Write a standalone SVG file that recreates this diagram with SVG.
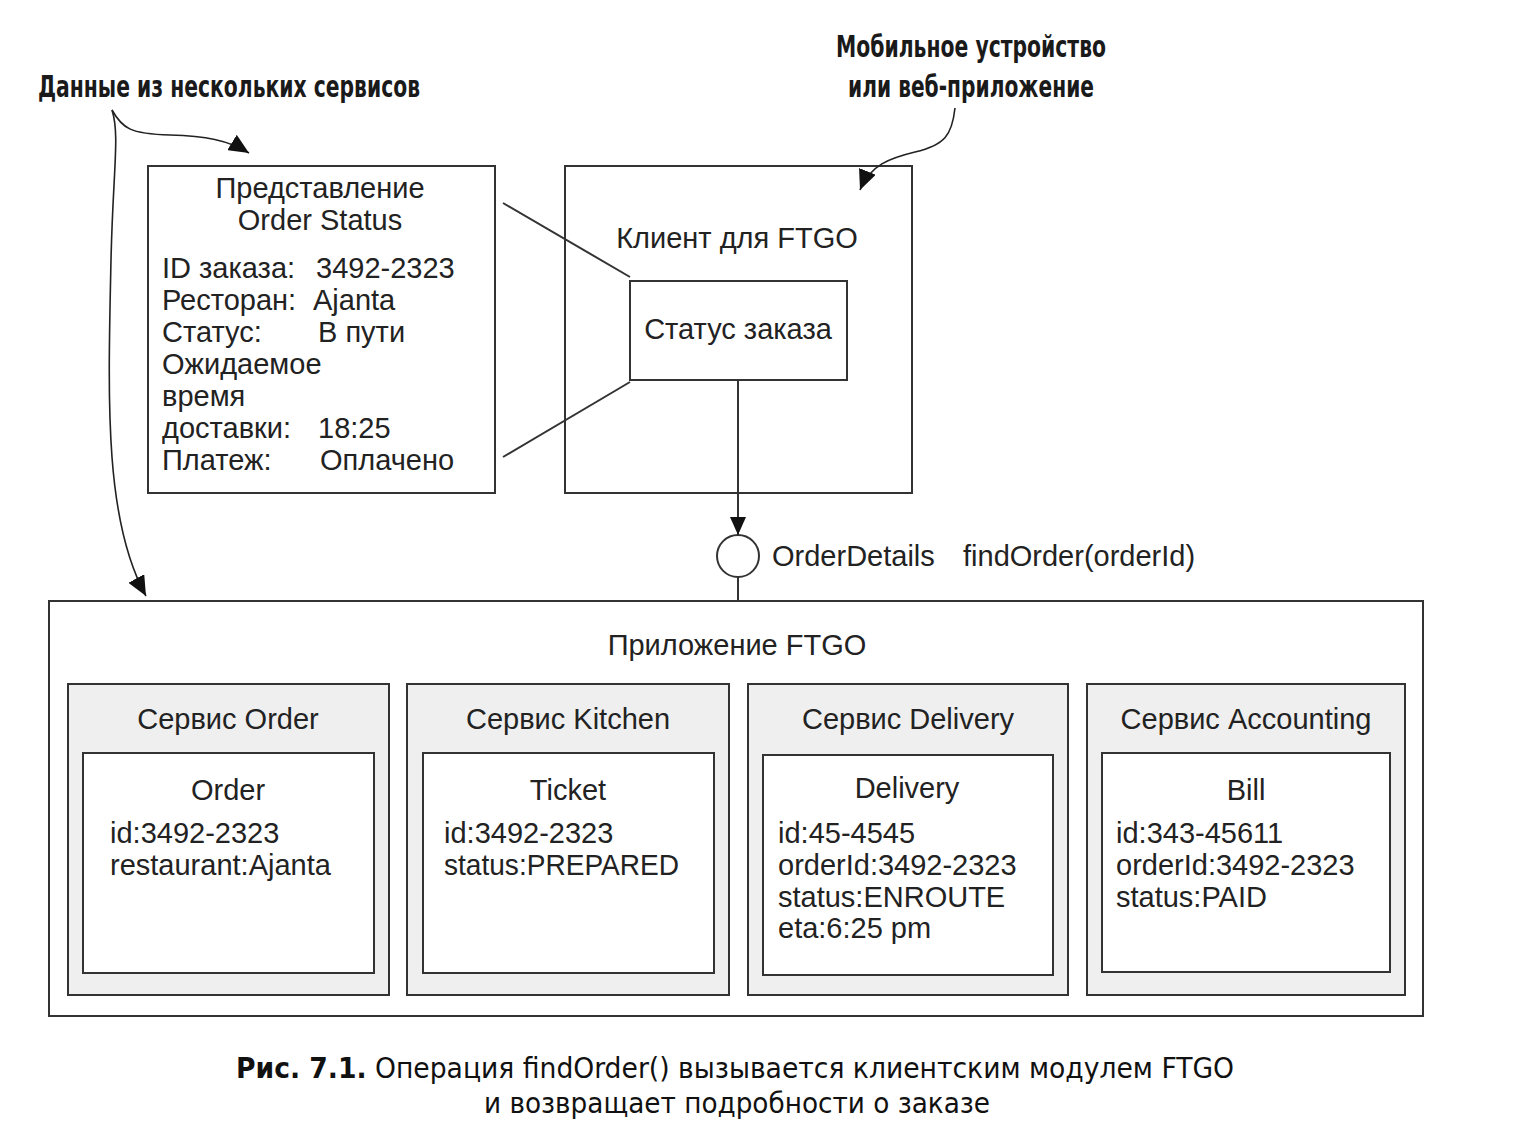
<svg xmlns="http://www.w3.org/2000/svg" width="1515" height="1130" viewBox="0 0 1515 1130">
<defs>
<style>
.box{fill:#fff;stroke:#333;stroke-width:2}
.svc{fill:#efefef;stroke:#333;stroke-width:2}
.t{font-family:"Liberation Sans",Arial,sans-serif;font-size:29px;fill:#222}
.c{text-anchor:middle}
.ann{font-family:"DejaVu Sans Condensed","DejaVu Sans",sans-serif;font-weight:bold;font-size:30px;fill:#1a1a1a}
.cap{font-family:"DejaVu Sans Condensed","DejaVu Sans",sans-serif;font-size:28px;fill:#111}
.ln{fill:none;stroke:#333;stroke-width:2}
.cv{fill:none;stroke:#222;stroke-width:1.6}
</style>
<marker id="ah" viewBox="0 0 20 18" refX="20" refY="9" markerWidth="20" markerHeight="18" markerUnits="userSpaceOnUse" orient="auto">
<path d="M0,0 L20,9 L0,18 z" fill="#111"/>
</marker>
<marker id="ah2" viewBox="0 0 18 16" refX="18" refY="8" markerWidth="18" markerHeight="16" markerUnits="userSpaceOnUse" orient="auto">
<path d="M0,0 L18,8 L0,16 z" fill="#111"/>
</marker>
</defs>
<rect width="1515" height="1130" fill="#fff"/>

<g id="annotation-data">
<text class="ann" x="38" y="97" textLength="382" lengthAdjust="spacingAndGlyphs">Данные из нескольких сервисов</text>
</g>
<g id="annotation-mobile">
<text class="ann" x="971" y="57" text-anchor="middle" textLength="270" lengthAdjust="spacingAndGlyphs">Мобильное устройство</text>
<text class="ann" x="971" y="97" text-anchor="middle" textLength="246" lengthAdjust="spacingAndGlyphs">или веб-приложение</text>
</g>

<g id="order-status-view">
<rect class="box" x="148" y="166" width="347" height="327"/>
<text class="t c" x="320" y="198">Представление</text>
<text class="t c" x="320" y="230">Order Status</text>
<text class="t" x="162" y="278">ID заказа:</text><text class="t" x="316" y="278">3492-2323</text>
<text class="t" x="162" y="310">Ресторан:</text><text class="t" x="313" y="310">Ajanta</text>
<text class="t" x="162" y="342">Статус:</text><text class="t" x="318" y="342">В пути</text>
<text class="t" x="162" y="374">Ожидаемое</text>
<text class="t" x="162" y="406">время</text>
<text class="t" x="162" y="438">доставки:</text><text class="t" x="318" y="438">18:25</text>
<text class="t" x="162" y="470">Платеж:</text><text class="t" x="320" y="470">Оплачено</text>
</g>

<g id="ftgo-client">
<rect class="box" x="565" y="166" width="347" height="327"/>
<text class="t c" x="737" y="248">Клиент для FTGO</text>
</g>
<g id="order-status-ui">
<rect class="box" x="630" y="281" width="217" height="99"/>
<text class="t c" x="738" y="339">Статус заказа</text>
</g>

<g id="interface">
<circle cx="738" cy="556" r="21" fill="#fff" stroke="#333" stroke-width="2"/>
<text class="t" x="772" y="566">OrderDetails</text>
<text class="t" x="963" y="566">findOrder(orderId)</text>
</g>

<g id="ftgo-app">
<rect class="box" x="49" y="601" width="1374" height="415"/>
<text class="t c" x="737" y="655">Приложение FTGO</text>
</g>

<g id="order-service">
<rect class="svc" x="68" y="684" width="321" height="311"/>
<text class="t c" x="228" y="729">Сервис Order</text>
<rect class="box" x="83" y="753" width="291" height="220"/>
<text class="t c" x="228" y="800">Order</text>
<text class="t" x="110" y="843">id:3492-2323</text>
<text class="t" x="110" y="875">restaurant:Ajanta</text>
</g>
<g id="kitchen-service">
<rect class="svc" x="407" y="684" width="322" height="311"/>
<text class="t c" x="568" y="729">Сервис Kitchen</text>
<rect class="box" x="423" y="753" width="291" height="220"/>
<text class="t c" x="568" y="800">Ticket</text>
<text class="t" x="444" y="843">id:3492-2323</text>
<text class="t" x="444" y="875" textLength="235" lengthAdjust="spacingAndGlyphs">status:PREPARED</text>
</g>
<g id="delivery-service">
<rect class="svc" x="748" y="684" width="320" height="311"/>
<text class="t c" x="908" y="729">Сервис Delivery</text>
<rect class="box" x="763" y="755" width="290" height="220"/>
<text class="t c" x="907" y="798">Delivery</text>
<text class="t" x="778" y="843">id:45-4545</text>
<text class="t" x="778" y="875">orderId:3492-2323</text>
<text class="t" x="778" y="907">status:ENROUTE</text>
<text class="t" x="778" y="938">eta:6:25 pm</text>
</g>
<g id="accounting-service">
<rect class="svc" x="1087" y="684" width="318" height="311"/>
<text class="t c" x="1246" y="729">Сервис Accounting</text>
<rect class="box" x="1102" y="753" width="288" height="219"/>
<text class="t c" x="1246" y="800">Bill</text>
<text class="t" x="1116" y="843">id:343-45611</text>
<text class="t" x="1116" y="875">orderId:3492-2323</text>
<text class="t" x="1116" y="907">status:PAID</text>
</g>

<g id="connectors">
<line class="ln" x1="503" y1="203" x2="630" y2="277"/>
<line class="ln" x1="503" y1="457" x2="630" y2="382"/>
<line class="ln" x1="738" y1="380" x2="738" y2="535" marker-end="url(#ah2)"/>
<line class="ln" x1="738" y1="577" x2="738" y2="601"/>
<path class="cv" d="M112,110 C122,128 130,134 170,135 C205,136 228,140 249,153" marker-end="url(#ah)"/>
<path class="cv" d="M112,110 C120,135 113,170 111,260 C108,400 104,520 146,596" marker-end="url(#ah)"/>
<path class="cv" d="M955,108 C952,135 945,145 915,152 C890,158 870,165 860,190" marker-end="url(#ah)"/>
</g>

<g id="caption">
<text class="cap" x="236" y="1078" textLength="998" lengthAdjust="spacingAndGlyphs"><tspan font-weight="bold">Рис. 7.1.</tspan> Операция findOrder() вызывается клиентским модулем FTGO</text>
<text class="cap" x="737" y="1113" text-anchor="middle" textLength="506" lengthAdjust="spacingAndGlyphs">и возвращает подробности о заказе</text>
</g>
</svg>
